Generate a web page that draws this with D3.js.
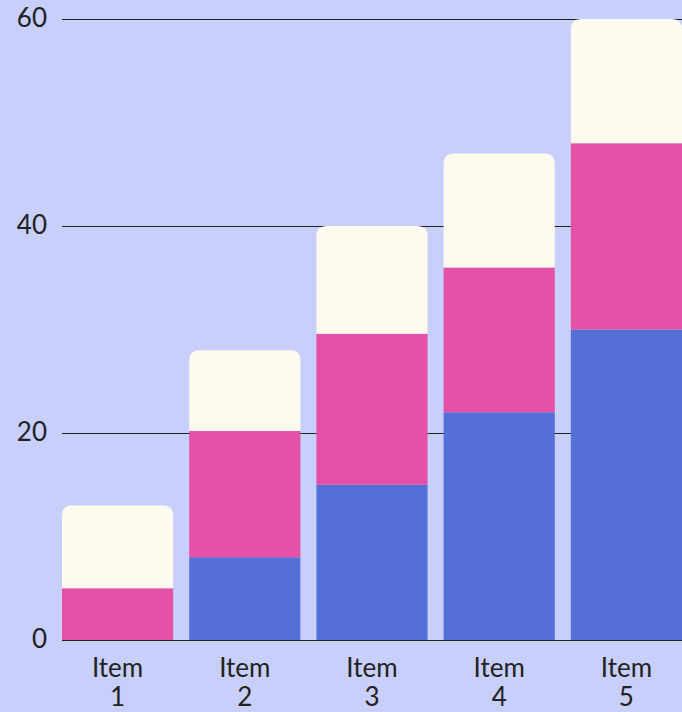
<!DOCTYPE html>
<html>
<head>
<meta charset="utf-8">
<script src="https://cdn.jsdelivr.net/npm/d3@7"></script>
<style>
  body { margin: 0; background: #c7cffa; }
  text { font-family: Lato, sans-serif; fill: #222; }
</style>
</head>
<body>
<div id="chart"></div>
<script>
var items = ["Item 1", "Item 2", "Item 3", "Item 4", "Item 5"];
var seriesKeys = ["blue", "pink", "cream"];
var blueValues = [0, 8, 15, 22, 30];
var pinkValues = [5, 12.2, 14.6, 14, 18];
var creamValues = [8, 7.8, 10.4, 11, 12];
var yTicks = [0, 20, 40, 60];

var colors = {blue: "#5470d6", pink: "#e551a6", cream: "#fdfaee"};

var W = 682, H = 712;
var margin = {top: 19, right: 0, bottom: 72, left: 62};
var width = W - margin.left - margin.right,
    height = H - margin.top - margin.bottom;

// build rows for the stack
var rows = items.map(function(d, i) {
    return {item: d, blue: blueValues[i], pink: pinkValues[i], cream: creamValues[i]};
});
var stacked = d3.stack().keys(seriesKeys)(rows);

var x = d3.scaleBand().domain(items).range([0, width]).paddingInner(0.126).paddingOuter(0);
var y = d3.scaleLinear().domain([0, 60]).range([height, 0]);

var svg = d3.select("#chart").append("svg")
    .attr("width", W)
    .attr("height", H)
  .append("g")
    .attr("transform", `translate(${margin.left}, ${margin.top})`);

// gridlines
svg.append("g")
    .selectAll("line")
    .data(yTicks)
    .enter().append("line")
    .attr("x1", 0)
    .attr("x2", width)
    .attr("y1", d => Math.round(y(d)) + 0.5)
    .attr("y2", d => Math.round(y(d)) + 0.5)
    .attr("stroke", "#222")
    .attr("stroke-width", 1);

// y labels
svg.append("g")
    .selectAll("text")
    .data(yTicks)
    .enter().append("text")
    .attr("x", -15)
    .attr("y", d => y(d))
    .attr("dy", "0.3em")
    .attr("text-anchor", "end")
    .style("font-size", "26px")
    .text(d => d);

// rounded top path
function topRounded(x0, y0, w, h, r) {
    r = Math.min(r, h, w / 2);
    return `M${x0},${y0 + h}V${y0 + r}Q${x0},${y0} ${x0 + r},${y0}H${x0 + w - r}Q${x0 + w},${y0} ${x0 + w},${y0 + r}V${y0 + h}Z`;
}

var layers = svg.append("g")
    .selectAll("g")
    .data(stacked)
    .enter().append("g")
    .attr("fill", d => colors[d.key]);

layers.selectAll("path")
    .data(d => d.map(function(v) { v.key = d.key; return v; }))
    .enter().append("path")
    .attr("d", function(d) {
        var x0 = x(d.data.item), w = x.bandwidth();
        var y0 = y(d[1]), h = y(d[0]) - y(d[1]);
        if (d.key == "cream") return topRounded(x0, y0, w, h, 10);
        return `M${x0},${y0}h${w}v${h}h${-w}Z`;
    });

// baseline on top
svg.append("line")
    .attr("x1", 0).attr("x2", width)
    .attr("y1", Math.round(y(0)) + 0.5).attr("y2", Math.round(y(0)) + 0.5)
    .attr("stroke", "#222");

// x labels, two lines
var xl = svg.append("g")
    .selectAll("text")
    .data(items)
    .enter().append("text")
    .attr("text-anchor", "middle")
    .style("font-size", "26px")
    .attr("transform", d => `translate(${x(d) + x.bandwidth() / 2}, ${height + 37})`);

xl.selectAll("tspan")
    .data(d => d.split(" "))
    .enter().append("tspan")
    .attr("x", 0)
    .attr("dy", (d, i) => i == 0 ? 0 : 29)
    .text(d => d);
</script>
</body>
</html>
